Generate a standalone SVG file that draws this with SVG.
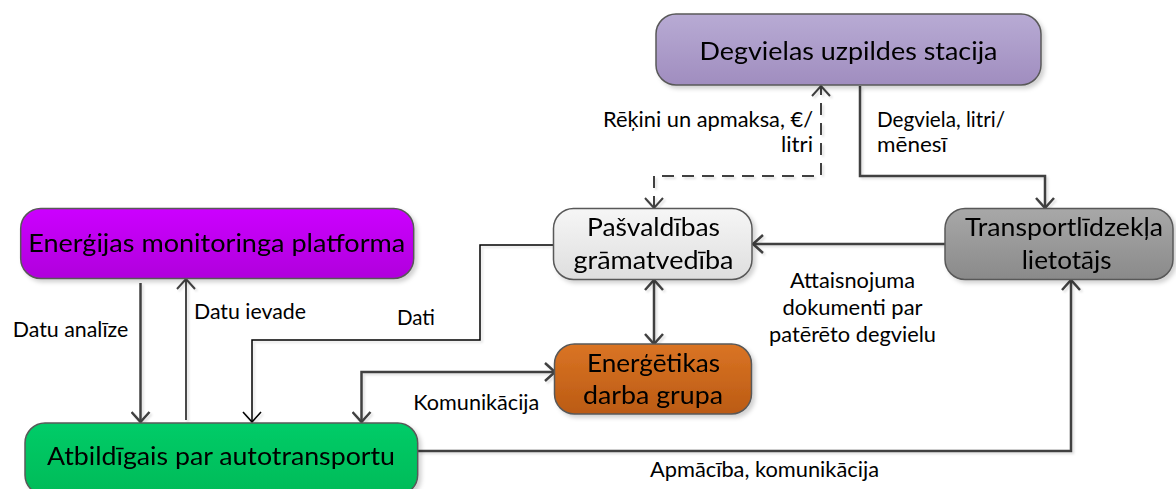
<svg xmlns="http://www.w3.org/2000/svg" width="1176" height="489" viewBox="0 0 1176 489">
<style>
.node rect{stroke:#595959;stroke-width:1.5}
.nt{font-family:Lato,"Open Sans","Liberation Sans",sans-serif;font-size:25px;fill:#000;text-anchor:middle}
.lb{font-family:Lato,"Open Sans","Liberation Sans",sans-serif;font-size:21px;fill:#000}
.c{fill:none;stroke:#404040;stroke-width:2.5}
.thin{stroke:#000;stroke-width:1.5}
.mid{stroke:#4a4a4a;stroke-width:2}
.dash{stroke-width:2;stroke-dasharray:12 8}
</style>
<defs>
<linearGradient id="gPurple" x1="0" y1="0" x2="0" y2="1"><stop offset="0" stop-color="#b8abd4"/><stop offset="1" stop-color="#a08dbf"/></linearGradient>
<linearGradient id="gMagenta" x1="0" y1="0" x2="0" y2="1"><stop offset="0" stop-color="#cc00ff"/><stop offset="1" stop-color="#b000dc"/></linearGradient>
<linearGradient id="gLight" x1="0" y1="0" x2="0" y2="1"><stop offset="0" stop-color="#f6f6f6"/><stop offset="1" stop-color="#dedede"/></linearGradient>
<linearGradient id="gGray" x1="0" y1="0" x2="0" y2="1"><stop offset="0" stop-color="#a8a8a8"/><stop offset="1" stop-color="#8a8a8a"/></linearGradient>
<linearGradient id="gOrange" x1="0" y1="0" x2="0" y2="1"><stop offset="0" stop-color="#da7424"/><stop offset="1" stop-color="#bb5b14"/></linearGradient>
<linearGradient id="gGreen" x1="0" y1="0" x2="0" y2="1"><stop offset="0" stop-color="#00cc68"/><stop offset="1" stop-color="#00bb58"/></linearGradient>
<filter id="sh" x="-10%" y="-10%" width="130%" height="140%"><feDropShadow dx="3" dy="3" stdDeviation="2" flood-color="#000" flood-opacity="0.18"/></filter>
<filter id="shl" x="-10%" y="-10%" width="130%" height="130%"><feDropShadow dx="2" dy="2" stdDeviation="1" flood-color="#000" flood-opacity="0.12"/></filter>
<marker id="a" viewBox="0 0 12 20" refX="11" refY="10" markerWidth="12" markerHeight="20" markerUnits="userSpaceOnUse" orient="auto-start-reverse"><path d="M1,1 L11,10 L1,19" fill="none" stroke="#404040" stroke-width="2.5"/></marker>
<marker id="ad" viewBox="0 0 12 20" refX="11" refY="10" markerWidth="12" markerHeight="20" markerUnits="userSpaceOnUse" orient="auto-start-reverse"><path d="M1,1 L11,10 L1,19" fill="none" stroke="#404040" stroke-width="2"/></marker>
<marker id="ab" viewBox="0 0 12 20" refX="11" refY="10" markerWidth="12" markerHeight="20" markerUnits="userSpaceOnUse" orient="auto-start-reverse"><path d="M1,1 L11,10 L1,19" fill="none" stroke="#000" stroke-width="1.6"/></marker>
</defs>
<rect width="1176" height="489" fill="#fff"/>

<g id="connectors" filter="url(#shl)">
<path class="c dash" d="M654,208 V176 H821 V86" marker-start="url(#ad)" marker-end="url(#ad)"/>
<path class="c" d="M860,86 V176 H1045 V208" marker-end="url(#a)"/>
<path class="c" d="M945,244 H753" marker-end="url(#a)"/>
<path class="c" d="M654,280 V344" marker-start="url(#a)" marker-end="url(#a)"/>
<path class="c thin" d="M553,245 H480 V340 H252 V422" marker-end="url(#ab)"/>
<path class="c" d="M555,372 H361.5 V422" marker-start="url(#a)" marker-end="url(#a)"/>
<path class="c" d="M140.5,283 V422" marker-end="url(#a)"/>
<path class="c mid" d="M186,420 V279" marker-end="url(#ad)"/>
<path class="c" d="M418,451 H1071 V280" marker-end="url(#a)"/>
</g>

<g id="labels">
<text class="lb" x="813" y="127" text-anchor="end" textLength="210" lengthAdjust="spacingAndGlyphs">Rēķini un apmaksa, €/</text>
<text class="lb" x="813" y="152" text-anchor="end" textLength="32" lengthAdjust="spacingAndGlyphs">litri</text>
<text class="lb" x="877" y="127" textLength="128" lengthAdjust="spacingAndGlyphs">Degviela, litri/</text>
<text class="lb" x="877" y="152" textLength="70" lengthAdjust="spacingAndGlyphs">mēnesī</text>
<text class="lb" x="852.5" y="288" text-anchor="middle" textLength="125" lengthAdjust="spacingAndGlyphs">Attaisnojuma</text>
<text class="lb" x="852.5" y="315" text-anchor="middle" textLength="140" lengthAdjust="spacingAndGlyphs">dokumenti par</text>
<text class="lb" x="852.5" y="342" text-anchor="middle" textLength="167" lengthAdjust="spacingAndGlyphs">patērēto degvielu</text>
<text class="lb" x="12.7" y="337" textLength="115.6" lengthAdjust="spacingAndGlyphs">Datu analīze</text>
<text class="lb" x="194" y="319" textLength="112" lengthAdjust="spacingAndGlyphs">Datu ievade</text>
<text class="lb" x="397" y="325" textLength="38" lengthAdjust="spacingAndGlyphs">Dati</text>
<text class="lb" x="413.3" y="410" textLength="126" lengthAdjust="spacingAndGlyphs">Komunikācija</text>
<text class="lb" x="650" y="477" textLength="229" lengthAdjust="spacingAndGlyphs">Apmācība, komunikācija</text>
</g>

<g id="node-degvielas" class="node" filter="url(#sh)">
<rect x="656" y="14" width="385" height="71" rx="20" fill="url(#gPurple)"/>
<text class="nt" x="848.5" y="60" textLength="298" lengthAdjust="spacingAndGlyphs">Degvielas uzpildes stacija</text>
</g>

<g id="node-energijas" class="node" filter="url(#sh)">
<rect x="20.7" y="208.5" width="393" height="70" rx="20" fill="url(#gMagenta)"/>
<text class="nt" x="216.7" y="252" textLength="377" lengthAdjust="spacingAndGlyphs">Enerģijas monitoringa platforma</text>
</g>

<g id="node-pasvaldibas" class="node" filter="url(#sh)">
<rect x="553.5" y="208.5" width="198.5" height="71" rx="20" fill="url(#gLight)"/>
<text class="nt" x="653.5" y="235.5" textLength="133" lengthAdjust="spacingAndGlyphs">Pašvaldības</text>
<text class="nt" x="653.5" y="268.5" textLength="160" lengthAdjust="spacingAndGlyphs">grāmatvedība</text>
</g>

<g id="node-transport" class="node" filter="url(#sh)">
<rect x="945" y="208.5" width="228" height="71" rx="20" fill="url(#gGray)"/>
<text class="nt" x="1064" y="236" textLength="198" lengthAdjust="spacingAndGlyphs">Transportlīdzekļa</text>
<text class="nt" x="1066.7" y="268.5" textLength="90" lengthAdjust="spacingAndGlyphs">lietotājs</text>
</g>

<g id="node-energetikas" class="node" filter="url(#sh)">
<rect x="554.5" y="344" width="197" height="70" rx="20" fill="url(#gOrange)"/>
<text class="nt" x="653.5" y="372" textLength="133" lengthAdjust="spacingAndGlyphs">Enerģētikas</text>
<text class="nt" x="653" y="404" textLength="140" lengthAdjust="spacingAndGlyphs">darba grupa</text>
</g>

<g id="node-atbildigais" class="node" filter="url(#sh)">
<rect x="25" y="423" width="392.7" height="72" rx="20" fill="url(#gGreen)"/>
<text class="nt" x="221" y="465" textLength="348" lengthAdjust="spacingAndGlyphs">Atbildīgais par autotransportu</text>
</g>
</svg>
